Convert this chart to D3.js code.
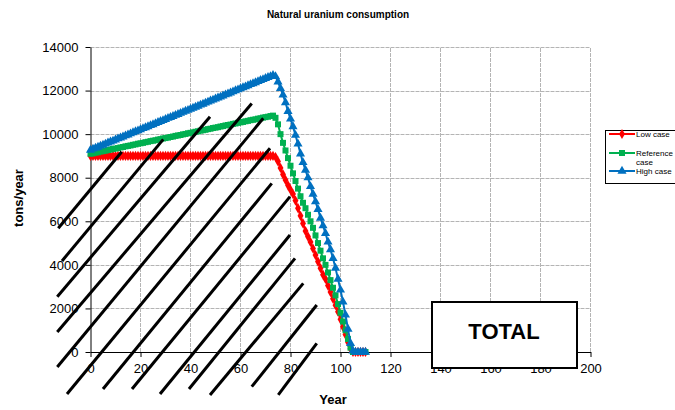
<!DOCTYPE html>
<html>
<head>
<meta charset="utf-8">
<script src="https://cdn.jsdelivr.net/npm/d3@7"></script>
<style>
  body { margin: 0; background: #fff; }
  text { font-family: "Liberation Sans", Arial, sans-serif; }
</style>
</head>
<body>
<svg id="chart" width="675" height="410"></svg>
<script>
// ---- data ----
const years = d3.range(0, 111);

const lowCase = [
  9000, 9000, 9000, 9000, 9000, 9000, 9000, 9000, 9000, 9000,
  9000, 9000, 9000, 9000, 9000, 9000, 9000, 9000, 9000, 9000,
  9000, 9000, 9000, 9000, 9000, 9000, 9000, 9000, 9000, 9000,
  9000, 9000, 9000, 9000, 9000, 9000, 9000, 9000, 9000, 9000,
  9000, 9000, 9000, 9000, 9000, 9000, 9000, 9000, 9000, 9000,
  9000, 9000, 9000, 9000, 9000, 9000, 9000, 9000, 9000, 9000,
  9000, 9000, 9000, 9000, 9000, 9000, 9000, 9000, 9000, 9000,
  9000, 9000, 9000, 9000, 8950, 8750, 8450, 8150, 7900, 7650,
  7450, 7250, 6950, 6600, 6250, 5900, 5550, 5300, 5050, 4750,
  4450, 4150, 3850, 3550, 3350, 3050, 2750, 2450, 2150, 1850,
  1500, 1150, 800, 450, 150, 0, 0, 0, 0, 0,
  0
];

const referenceCase = [
  9100, 9120, 9150, 9170, 9200, 9220, 9240, 9270, 9290, 9320,
  9340, 9360, 9390, 9410, 9440, 9460, 9480, 9510, 9530, 9560,
  9580, 9600, 9630, 9650, 9680, 9700, 9720, 9750, 9770, 9800,
  9820, 9840, 9870, 9890, 9920, 9940, 9960, 9990, 10010, 10040,
  10060, 10080, 10110, 10130, 10160, 10180, 10200, 10230, 10250, 10280,
  10300, 10320, 10350, 10370, 10400, 10420, 10440, 10470, 10490, 10520,
  10540, 10560, 10590, 10610, 10640, 10660, 10680, 10710, 10730, 10760,
  10780, 10800, 10830, 10850, 10750, 10450, 10000, 9600, 9250, 8900,
  8550, 8200, 7850, 7500, 7150, 6850, 6600, 6300, 6000, 5700,
  5350, 5000, 4650, 4300, 4000, 3650, 3300, 2950, 2600, 2200,
  1800, 1400, 1000, 600, 200, 0, 0, 0, 0, 0,
  0
];

const highCase = [
  9270, 9320, 9360, 9410, 9460, 9500, 9550, 9600, 9650, 9690,
  9740, 9790, 9830, 9880, 9930, 9970, 10020, 10070, 10120, 10160,
  10210, 10260, 10300, 10350, 10400, 10440, 10490, 10540, 10590, 10630,
  10680, 10730, 10770, 10820, 10870, 10910, 10960, 11010, 11060, 11100,
  11150, 11200, 11240, 11290, 11340, 11380, 11430, 11480, 11530, 11570,
  11620, 11670, 11710, 11760, 11810, 11850, 11900, 11950, 12000, 12040,
  12090, 12140, 12180, 12230, 12280, 12320, 12370, 12420, 12470, 12510,
  12560, 12610, 12650, 12700, 12650, 12400, 12100, 11800, 11450, 11050,
  10700, 10350, 9950, 9550, 9100, 8700, 8350, 8000, 7600, 7250,
  6900, 6550, 6150, 5800, 5450, 5050, 4700, 4300, 3850, 3350,
  2850, 2300, 1700, 1050, 400, 50, 0, 0, 0, 0,
  0
];

const seriesNames = ["Low case", "Reference case", "High case"];
const xTicks = [0, 20, 40, 60, 80, 100, 120, 140, 160, 180, 200];
const yTicks = [0, 2000, 4000, 6000, 8000, 10000, 12000, 14000];

// hand-drawn hatch strokes over the chart, [year1, tons1, year2, tons2]
const hatchLines = [
  [-12.9, 5680, 12.5, 9190],
  [-11.4, 4180, 29.1, 9760],
  [-13.3, 2540, 47.8, 10800],
  [-13.3, 920, 64.5, 11410],
  [-13.3, -690, 69.1, 10730],
  [-9.4, -1930, 71.8, 9350],
  [5.0, -1700, 72.5, 7740],
  [16.6, -1700, 79.8, 7130],
  [27.8, -1930, 79.8, 5370],
  [39.4, -1700, 81.8, 4300],
  [47.8, -1970, 85.1, 3150],
  [64.5, -1590, 90.5, 2160],
  [75.1, -1970, 90.5, 400]
];

// ---- setup ----
const svg = d3.select("#chart");

const x = d3.scaleLinear().domain([0, 200]).range([90.5, 590.5]);
const y = d3.scaleLinear().domain([0, 14000]).range([352, 47]);

const colors = ["#ff0000", "#00b050", "#0070c0"];
const symbols = [d3.symbolDiamond, d3.symbolSquare, d3.symbolTriangle];
const symbolSizes = [30, 36, 36];

// gridlines
svg.append("g")
  .selectAll("line")
  .data(yTicks.filter(d => d > 0))
  .join("line")
  .attr("x1", x(0)).attr("x2", x(200))
  .attr("y1", d => Math.round(y(d)) + 0.5)
  .attr("y2", d => Math.round(y(d)) + 0.5)
  .attr("stroke", "#b4b4b4")
  .attr("stroke-dasharray", "4,1");

svg.append("g")
  .selectAll("line")
  .data(xTicks.filter(d => d > 0))
  .join("line")
  .attr("x1", d => x(d)).attr("x2", d => x(d))
  .attr("y1", y(0)).attr("y2", y(14000))
  .attr("stroke", "#b4b4b4")
  .attr("stroke-dasharray", "4,1");

// axes
let yAxis = svg.append("g")
  .attr("transform", `translate(${x(0)},0)`)
  .call(d3.axisLeft(y).tickValues(yTicks).tickFormat(d3.format("d"))
    .tickSize(5).tickPadding(7).tickSizeOuter(0));

let xAxis = svg.append("g")
  .attr("transform", `translate(0,${y(0)})`)
  .call(d3.axisBottom(x).tickValues(xTicks).tickFormat(d3.format("d"))
    .tickSize(5).tickPadding(7).tickSizeOuter(0));

[yAxis, xAxis].forEach(a => {
  a.select(".domain").attr("stroke", "#000");
  a.selectAll(".tick line").attr("stroke", "#000");
  a.selectAll("text")
    .attr("fill", "#000")
    .style("font-size", "13px")
    .style("font-family", "'Liberation Sans', Arial, sans-serif");
});

// series
const allSeries = [lowCase, referenceCase, highCase];
let line = d3.line()
  .x((d, i) => x(years[i]))
  .y(d => y(d));

allSeries.forEach((values, k) => {
  let g = svg.append("g");
  g.append("path")
    .datum(values)
    .attr("d", line)
    .attr("fill", "none")
    .attr("stroke", colors[k])
    .attr("stroke-width", 2);
  g.selectAll("path.mark")
    .data(values)
    .join("path")
    .attr("class", "mark")
    .attr("d", d3.symbol().type(symbols[k]).size(symbolSizes[k]))
    .attr("transform", (d, i) => `translate(${x(years[i])},${y(d)})`)
    .attr("fill", colors[k]);
});

// hatching
svg.append("g")
  .selectAll("line")
  .data(hatchLines)
  .join("line")
  .attr("x1", d => x(d[0])).attr("y1", d => y(d[1]))
  .attr("x2", d => x(d[2])).attr("y2", d => y(d[3]))
  .attr("stroke", "#000")
  .attr("stroke-width", 3);

// titles
svg.append("text")
  .attr("x", 338).attr("y", 18)
  .attr("text-anchor", "middle")
  .style("font-size", "10px").style("font-weight", "bold")
  .text("Natural uranium consumption");

svg.append("text")
  .attr("x", 333).attr("y", 404)
  .attr("text-anchor", "middle")
  .style("font-size", "13px").style("font-weight", "bold")
  .text("Year");

svg.append("text")
  .attr("transform", "translate(23,198) rotate(-90)")
  .attr("text-anchor", "middle")
  .style("font-size", "13px").style("font-weight", "bold")
  .text("tons/year");

// legend
let legend = svg.append("g");
legend.append("rect")
  .attr("x", 605.5).attr("y", 130.5)
  .attr("width", 90).attr("height", 53)
  .attr("fill", "#fff").attr("stroke", "#000");

const legendY = [134, 153, 171];
seriesNames.forEach((name, k) => {
  legend.append("line")
    .attr("x1", 609).attr("x2", 635)
    .attr("y1", legendY[k]).attr("y2", legendY[k])
    .attr("stroke", colors[k]).attr("stroke-width", 2);
  legend.append("path")
    .attr("d", d3.symbol().type(symbols[k]).size(symbolSizes[k])())
    .attr("transform", `translate(622,${legendY[k]})`)
    .attr("fill", colors[k]);
  let t = legend.append("text")
    .attr("x", 636).attr("y", legendY[k] + 3)
    .style("font-size", "8px");
  if (name === "Reference case") {
    t.text("Reference");
    legend.append("text")
      .attr("x", 636).attr("y", legendY[k] + 12)
      .style("font-size", "8px")
      .text("case");
  } else {
    t.text(name);
  }
});

// TOTAL box
svg.append("rect")
  .attr("x", 432).attr("y", 302)
  .attr("width", 145).attr("height", 66)
  .attr("fill", "#fff").attr("stroke", "#000").attr("stroke-width", 2);

svg.append("text")
  .attr("x", 504).attr("y", 339)
  .attr("text-anchor", "middle")
  .style("font-size", "22px").style("font-weight", "bold")
  .text("TOTAL");
</script>
</body>
</html>
